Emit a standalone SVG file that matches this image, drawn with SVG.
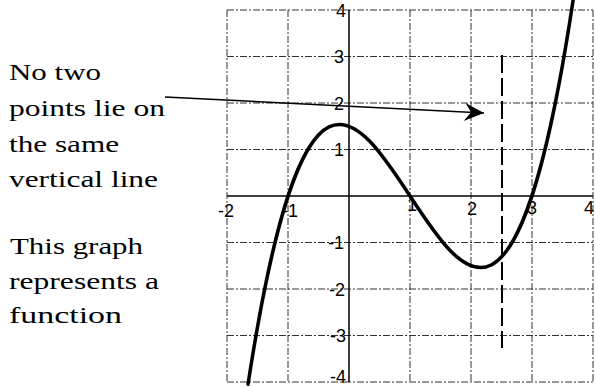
<svg xmlns="http://www.w3.org/2000/svg" width="595" height="387" viewBox="0 0 595 387">
<style>
.num{font-family:"Liberation Sans",Arial,sans-serif;font-size:18px;fill:#000}
.grid{stroke:#333;stroke-width:1;stroke-dasharray:7 2 2 2;fill:none}
.axis{stroke:#000;stroke-width:1.5;fill:none}
.curve{stroke:#000;stroke-width:3.5;fill:none;stroke-linecap:round}
.vline{stroke:#000;stroke-width:2;stroke-dasharray:18 5;fill:none}
.arrow{stroke:#000;stroke-width:1.5;fill:none}
</style>
<defs>
<marker id="head" markerUnits="userSpaceOnUse" markerWidth="24" markerHeight="24" viewBox="-22 -12 24 24" refX="0" refY="0" orient="auto" overflow="visible">
<path d="M0,0 L-19,-9 L-13,0 L-20,9 Z" fill="#000"/>
</marker>
</defs>
<rect width="595" height="387" fill="#fff"/>

<g id="label-no-two-points" font-family="Liberation Serif, serif" font-size="23.5" fill="#000">
<text x="9" y="80" textLength="92" lengthAdjust="spacingAndGlyphs">No two</text>
<text x="9" y="116" textLength="156" lengthAdjust="spacingAndGlyphs">points lie on</text>
<text x="9" y="152" textLength="110" lengthAdjust="spacingAndGlyphs">the same</text>
<text x="9" y="187" textLength="149" lengthAdjust="spacingAndGlyphs">vertical line</text>
</g>

<g id="label-function" font-family="Liberation Serif, serif" font-size="23.5" fill="#000">
<text x="10" y="254" textLength="133" lengthAdjust="spacingAndGlyphs">This graph</text>
<text x="9" y="289" textLength="150" lengthAdjust="spacingAndGlyphs">represents a</text>
<text x="9" y="323" textLength="113" lengthAdjust="spacingAndGlyphs">function</text>
</g>

<g id="grid">
<line class="grid" x1="227" y1="10" x2="227" y2="382"/>
<line class="grid" x1="288" y1="10" x2="288" y2="382"/>
<line class="grid" x1="410" y1="10" x2="410" y2="382"/>
<line class="grid" x1="471" y1="10" x2="471" y2="382"/>
<line class="grid" x1="532" y1="10" x2="532" y2="382"/>
<line class="grid" x1="593" y1="10" x2="593" y2="382"/>
<line class="grid" x1="227" y1="10" x2="593" y2="10"/>
<line class="grid" x1="227" y1="56.5" x2="593" y2="56.5"/>
<line class="grid" x1="227" y1="103" x2="593" y2="103"/>
<line class="grid" x1="227" y1="149.5" x2="593" y2="149.5"/>
<line class="grid" x1="227" y1="242.5" x2="593" y2="242.5"/>
<line class="grid" x1="227" y1="289" x2="593" y2="289" stroke-dasharray="1 9"/>
<line class="grid" x1="227" y1="335.5" x2="593" y2="335.5"/>
<line class="grid" x1="227" y1="382" x2="593" y2="382"/>
</g>

<g id="axes">
<line class="axis" x1="227" y1="196" x2="593" y2="196"/>
<line class="axis" x1="349" y1="10" x2="349" y2="382"/>
</g>

<g id="y-labels">
<text class="num" x="346" y="16.5" text-anchor="end">4</text>
<text class="num" x="344" y="63" text-anchor="end">3</text>
<text class="num" x="344" y="109.5" text-anchor="end">2</text>
<text class="num" x="344" y="156" text-anchor="end">1</text>
<text class="num" x="344" y="249" text-anchor="end">-1</text>
<text class="num" x="345" y="295.5" text-anchor="end">-2</text>
<text class="num" x="346" y="342" text-anchor="end">-3</text>
<text class="num" x="346" y="383" text-anchor="end">-4</text>
</g>

<g id="x-labels">
<text class="num" x="226" y="217" text-anchor="middle">-2</text>
<text class="num" x="290" y="217" text-anchor="middle">-1</text>
<text class="num" x="412" y="211" text-anchor="middle">1</text>
<text class="num" x="472" y="215" text-anchor="middle">2</text>
<text class="num" x="532" y="214" text-anchor="middle">3</text>
<text class="num" x="589" y="214" text-anchor="middle">4</text>
</g>

<g id="vertical-test-line">
<line class="vline" x1="502" y1="55" x2="502" y2="348"/>
</g>

<g id="curve">
<path class="curve" d="M248.05,384.21 C356.52,-324.76 465.0,723.21 573.48,-2.3"/>
</g>

<g id="connectors">
<line class="arrow" x1="165" y1="97" x2="484" y2="113" marker-end="url(#head)"/>
</g>
</svg>
